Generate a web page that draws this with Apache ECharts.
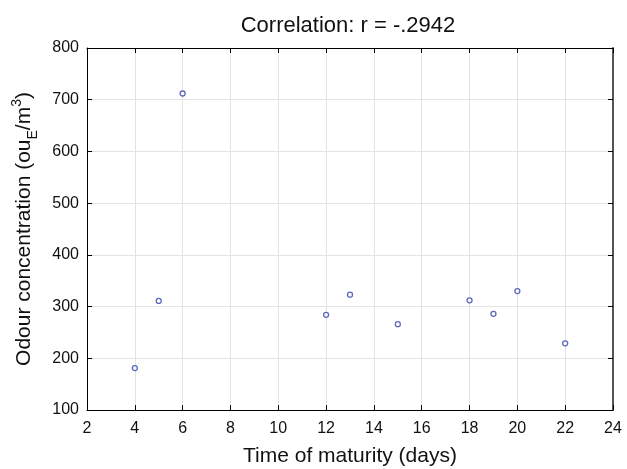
<!DOCTYPE html>
<html><head><meta charset="utf-8">
<script src="https://cdn.jsdelivr.net/npm/echarts@6/dist/echarts.min.js"></script>
<style>html,body{margin:0;padding:0;background:#fff}#c{width:627px;height:469px}</style>
</head><body><div id="c"></div>
<script>
const days = [4, 5, 6, 12, 13, 15, 18, 19, 20, 22];
const odour = [181, 311, 712, 284, 323, 266, 312, 286, 330, 229];
const xTicks = [2, 4, 6, 8, 10, 12, 14, 16, 18, 20, 22, 24];
const yTicks = [100, 200, 300, 400, 500, 600, 700, 800];
const titleText = 'Correlation: r = -.2942';
const xName = 'Time of maturity (days)';

const font = '"Liberation Sans", Arial, sans-serif';
const chart = echarts.init(document.getElementById('c'), null, {renderer: 'canvas'});
const axisCommon = {
  axisLine: {show: true, onZero: false, lineStyle: {color: '#000', width: 1}},
  axisTick: {show: true, inside: true, length: 5, lineStyle: {color: '#000'}},
};
chart.setOption({
  animation: false,
  title: {text: titleText, left: 343, top: 10, textAlign: 'center',
    textStyle: {fontFamily: font, fontSize: 22, fontWeight: 'normal', color: '#111'}},
  grid: {left: 87, right: 14, top: 48, bottom: 59, containLabel: false, outerBoundsMode: 'none'},
  xAxis: [{
    type: 'value', min: xTicks[0], max: xTicks[xTicks.length - 1], interval: 2,
    position: 'bottom',
    name: xName, nameLocation: 'middle', nameGap: 36,
    nameTextStyle: {fontFamily: font, fontSize: 21, color: '#111'},
    axisLabel: {fontFamily: font, fontSize: 16, color: '#111', margin: 11},
    splitLine: {show: true, lineStyle: {color: '#e3e3e3', width: 1}},
    ...axisCommon
  }, {
    type: 'value', min: xTicks[0], max: xTicks[xTicks.length - 1], interval: 2,
    position: 'top', axisLabel: {show: false}, splitLine: {show: false},
    ...axisCommon
  }],
  yAxis: [{
    type: 'value', min: yTicks[0], max: yTicks[yTicks.length - 1], interval: 100,
    position: 'left',
    name: '{n|Odour concentration (ou}{sub|E}{n|/m}{sup|3}{n|)}',
    nameLocation: 'middle', nameGap: 52,
    nameTextStyle: {
      rich: {
        n: {fontFamily: font, fontSize: 21, color: '#111'},
        sub: {fontFamily: font, fontSize: 14, color: '#111', verticalAlign: 'bottom', padding: [0,0,-5,0]},
        sup: {fontFamily: font, fontSize: 14, color: '#111', verticalAlign: 'top', padding: [-4,0,0,0]}
      }
    },
    axisLabel: {fontFamily: font, fontSize: 16, color: '#111', margin: 8},
    splitLine: {show: true, lineStyle: {color: '#e3e3e3', width: 1}},
    ...axisCommon
  }, {
    type: 'value', min: yTicks[0], max: yTicks[yTicks.length - 1], interval: 100,
    position: 'right', axisLabel: {show: false}, splitLine: {show: false},
    ...axisCommon,
    axisLine: {show: true, onZero: false, lineStyle: {color: '#555', width: 2}}
  }],
  series: [{
    type: 'scatter',
    data: days.map((d, i) => [d, odour[i]]),
    symbol: 'circle', symbolSize: 5,
    itemStyle: {color: '#fff', borderColor: '#3344aa', borderWidth: 1.3},
    emphasis: {disabled: true}
  }]
});
</script></body></html>
